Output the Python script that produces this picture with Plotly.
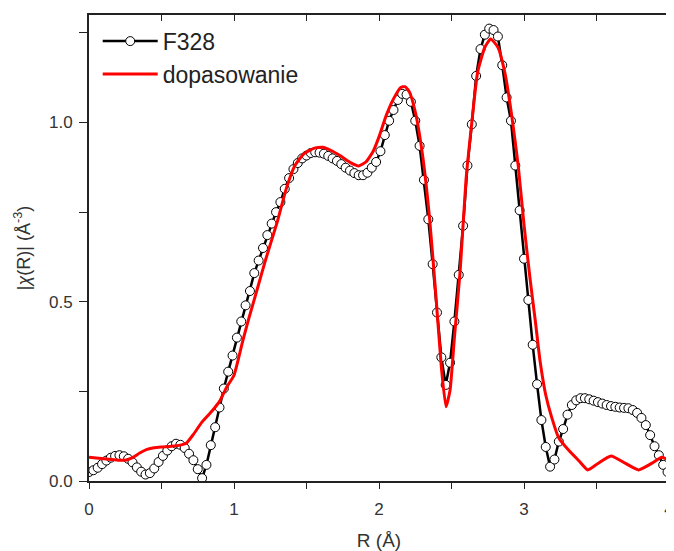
import plotly.graph_objects as go

# measured |chi(R)| for sample F328
r_data = [0.00, 0.03, 0.06, 0.09, 0.12, 0.15, 0.18, 0.21, 0.24, 0.27, 0.30, 0.33, 0.36, 0.39,
          0.42, 0.45, 0.48, 0.51, 0.54, 0.57, 0.60, 0.63, 0.66, 0.69, 0.72, 0.75, 0.78, 0.81,
          0.84, 0.87, 0.90, 0.93, 0.96, 0.99, 1.02, 1.05, 1.08, 1.11, 1.14, 1.17, 1.20, 1.23,
          1.26, 1.29, 1.32, 1.35, 1.38, 1.41, 1.44, 1.47, 1.50, 1.53, 1.56, 1.59, 1.62, 1.65,
          1.68, 1.71, 1.74, 1.77, 1.80, 1.83, 1.86, 1.89, 1.92, 1.95, 1.98, 2.01, 2.04, 2.07,
          2.10, 2.13, 2.16, 2.19, 2.22, 2.25, 2.28, 2.31, 2.34, 2.37, 2.40, 2.43, 2.46, 2.49,
          2.52, 2.55, 2.58, 2.61, 2.64, 2.67, 2.70, 2.73, 2.76, 2.79, 2.82, 2.85, 2.88, 2.91,
          2.94, 2.97, 3.00, 3.03, 3.06, 3.09, 3.12, 3.15, 3.18, 3.21, 3.24, 3.27, 3.30, 3.33,
          3.36, 3.39, 3.42, 3.45, 3.48, 3.51, 3.54, 3.57, 3.60, 3.63, 3.66, 3.69, 3.72, 3.75,
          3.78, 3.81, 3.84, 3.87, 3.90, 3.93, 3.96, 3.99]
chi_data = [0.025, 0.030, 0.037, 0.047, 0.057, 0.065, 0.070, 0.072, 0.069, 0.062, 0.052, 0.038, 0.026, 0.018,
            0.022, 0.035, 0.053, 0.070, 0.085, 0.097, 0.104, 0.101, 0.092, 0.076, 0.058, 0.033, 0.008, 0.045,
            0.100, 0.150, 0.205, 0.258, 0.305, 0.350, 0.400, 0.445, 0.490, 0.530, 0.580, 0.615, 0.650, 0.686,
            0.718, 0.750, 0.778, 0.815, 0.845, 0.870, 0.887, 0.900, 0.908, 0.915, 0.917, 0.916, 0.913, 0.907,
            0.900, 0.893, 0.884, 0.874, 0.866, 0.859, 0.853, 0.853, 0.860, 0.874, 0.890, 0.920, 0.965, 1.005,
            1.035, 1.063, 1.080, 1.078, 1.058, 1.005, 0.935, 0.840, 0.730, 0.605, 0.470, 0.345, 0.268, 0.330,
            0.445, 0.575, 0.712, 0.880, 0.995, 1.130, 1.205, 1.245, 1.262, 1.258, 1.240, 1.160, 1.070, 1.005,
            0.880, 0.755, 0.620, 0.505, 0.380, 0.270, 0.170, 0.095, 0.040, 0.060, 0.110, 0.145, 0.185, 0.212,
            0.225, 0.231, 0.231, 0.228, 0.224, 0.220, 0.216, 0.212, 0.209, 0.207, 0.205, 0.204, 0.203, 0.198,
            0.190, 0.176, 0.156, 0.128, 0.097, 0.072, 0.045, 0.025]

# fit ("dopasowanie")
r_fit = [0.00, 0.10, 0.20, 0.25, 0.30, 0.35, 0.40, 0.45, 0.50, 0.57, 0.63, 0.67, 0.72, 0.78,
         0.85, 0.90, 0.95, 1.00, 1.06, 1.10, 1.16, 1.22, 1.30, 1.36, 1.42, 1.48, 1.55, 1.61,
         1.67, 1.73, 1.80, 1.86, 1.91, 1.96, 2.00, 2.05, 2.10, 2.15, 2.18, 2.21, 2.25, 2.30,
         2.35, 2.39, 2.43, 2.462, 2.49, 2.52, 2.56, 2.60, 2.64, 2.68, 2.73, 2.77, 2.82, 2.87,
         2.915, 2.96, 3.00, 3.04, 3.08, 3.11, 3.15, 3.19, 3.24, 3.31, 3.38, 3.44, 3.51, 3.60,
         3.70, 3.79, 3.88, 3.95, 4.00]
chi_fit = [0.066, 0.062, 0.058, 0.058, 0.065, 0.078, 0.088, 0.093, 0.095, 0.097, 0.100, 0.105, 0.130, 0.165,
           0.196, 0.222, 0.262, 0.295, 0.390, 0.450, 0.535, 0.620, 0.725, 0.815, 0.880, 0.912, 0.928, 0.931,
           0.922, 0.908, 0.889, 0.879, 0.890, 0.920, 0.960, 1.020, 1.066, 1.098, 1.100, 1.085, 1.030, 0.910,
           0.727, 0.530, 0.318, 0.207, 0.253, 0.400, 0.588, 0.840, 1.000, 1.140, 1.210, 1.233, 1.210, 1.135,
           1.020, 0.880, 0.715, 0.570, 0.440, 0.337, 0.240, 0.179, 0.120, 0.085, 0.056, 0.031, 0.049, 0.070,
           0.049, 0.031, 0.049, 0.066, 0.058]

x_ticks = [0, 0.5, 1, 1.5, 2, 2.5, 3, 3.5, 4]
x_labels = ["0", "", "1", "", "2", "", "3", "", "4"]
y_ticks = [0, 0.25, 0.5, 0.75, 1.0, 1.25]
y_labels = ["0.0", "", "0.5", "", "1.0", ""]

font = "Liberation Sans, Arial, sans-serif"

fig = go.Figure()
fig.add_trace(go.Scatter(
    x=r_data, y=chi_data, name="F328", mode="lines+markers",
    line=dict(color="black", width=2.5),
    marker=dict(symbol="circle", size=9, color="white", line=dict(color="black", width=1)),
))
# fit drawn on the overlaid top axis (same range) so that axis with inward ticks is rendered
fig.add_trace(go.Scatter(
    x=r_fit, y=chi_fit, name="dopasowanie", mode="lines", xaxis="x2",
    line=dict(color="#ff0000", width=3, shape="spline", smoothing=0.5),
))

axis_common = dict(showgrid=False, zeroline=False, linecolor="#222", linewidth=1.8,
                   tickcolor="#222", tickwidth=1.3, automargin=False,
                   tickfont=dict(family=font, size=17, color="#333"))

# page body adds an 8px offset, so the figure is 8px smaller than the window
fig.update_layout(
    width=666, height=543,
    margin=dict(l=81, r=5, t=7, b=70),
    paper_bgcolor="white", plot_bgcolor="white",
    font=dict(family=font, color="#222"),
    xaxis=dict(range=[0, 4], ticks="outside", tickvals=x_ticks, ticktext=x_labels,
               mirror=True, showline=True, ticklen=6, ticklabelstandoff=6,
               title=dict(text="R (Å)", font=dict(family=font, size=19, color="#333"), standoff=15),
               **axis_common),
    xaxis2=dict(range=[0, 4], overlaying="x", side="top", ticks="inside", tickvals=x_ticks,
                showticklabels=False, showline=False, showgrid=False, zeroline=False,
                tickcolor="#222", tickwidth=1.3, ticklen=6, automargin=False),
    yaxis=dict(range=[0, 1.3], ticks="outside", tickvals=y_ticks, ticktext=y_labels,
               mirror=True, showline=True, ticklen=8, ticklabelstandoff=3,
               title=dict(text="|<i>χ</i>(R)| (Å<sup>-3</sup>)", font=dict(family=font, size=18, color="#333"),
                          standoff=14),
               **axis_common),
    legend=dict(x=0.015, y=0.99, xanchor="left", yanchor="top", bgcolor="rgba(0,0,0,0)",
                font=dict(family=font, size=23, color="#222"), tracegroupgap=0, itemwidth=55),
    showlegend=True,
)

fig.write_html("out.html")
